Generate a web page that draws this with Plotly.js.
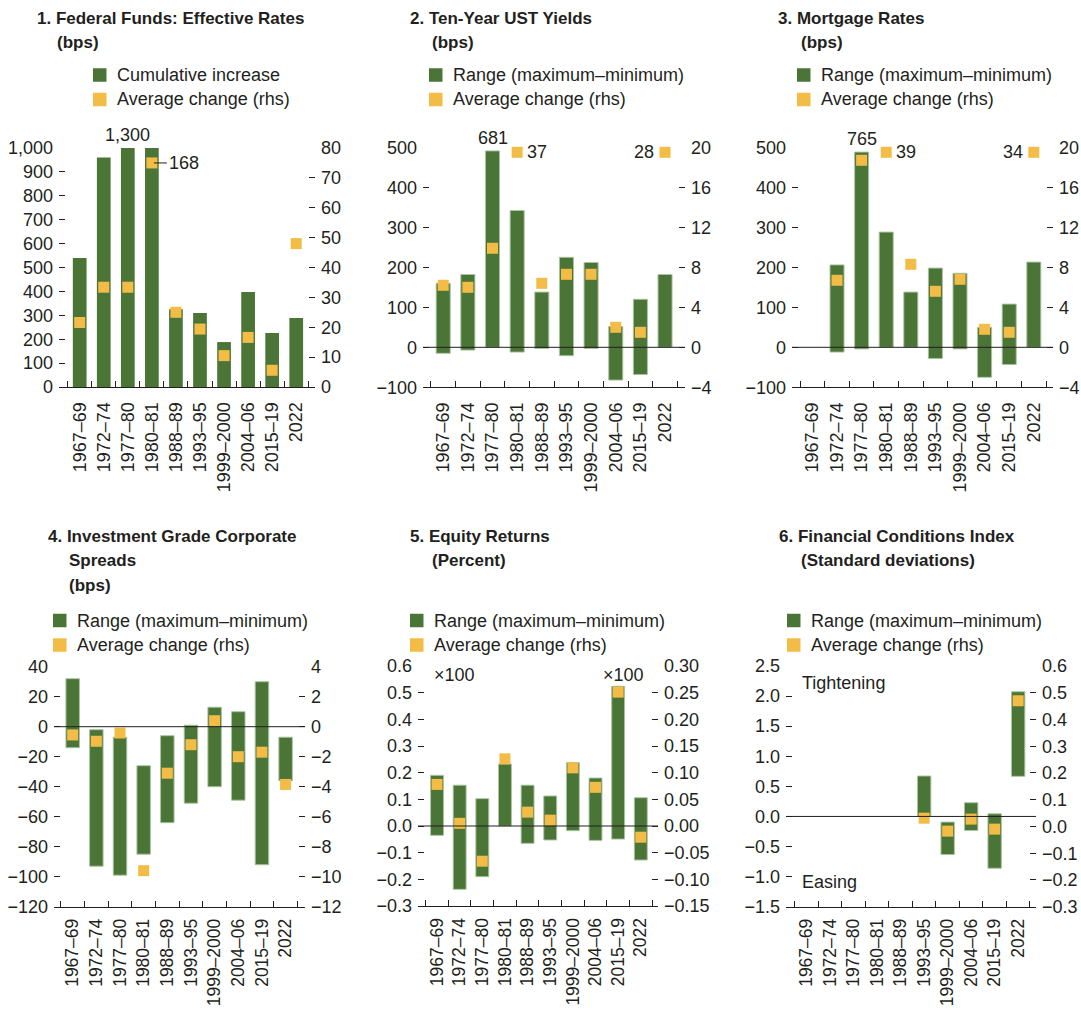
<!DOCTYPE html>
<html>
<head>
<meta charset="utf-8">
<script src="https://cdn.plot.ly/plotly-3.0.1.min.js"></script>
<style>
  html, body { margin: 0; padding: 0; background: #ffffff; }
  #chart { width: 1081px; height: 1010px; }
</style>
</head>
<body>
<div id="chart"></div>
<script>
// ---------------- DATA ----------------
const categories = ['1967–69', '1972–74', '1977–80', '1980–81', '1988–89', '1993–95', '1999–2000', '2004–06', '2015–19', '2022'];

// 1. Federal Funds: Effective Rates (bps)
const fedCumulative = [540, 960, 1300, 1000, 325, 310, 188, 397, 226, 289];
const fedAvgChange  = [21.6, 33.4, 33.4, 75, 25, 19.4, 10.5, 16.6, 5.6, 48];

// 2. Ten-Year UST Yields (bps)
const ustMax = [160, 182, 491, 342, 138, 225, 212, 52, 120, 182];
const ustMin = [-15, -7, 0, -12, -3, -21, -3, -82, -68, 0];
const ustAvgChange = [6.2, 6.0, 9.9, 19.5, 6.4, 7.3, 7.3, 2.0, 1.5, 19.5];

// 3. Mortgage Rates (bps)
const mortMax = [null, 206, 488, 288, 138, 198, 185, 50, 108, 213];
const mortMin = [null, -12, -4, 0, 0, -28, -4, -75, -43, 0];
const mortAvgChange = [null, 6.7, 18.7, 19.5, 8.3, 5.6, 6.8, 1.8, 1.5, 19.5];

// 4. Investment Grade Corporate Spreads (bps)
const igMax = [32, -2, -7, -26, -6, 1, 13, 10, 30, -7];
const igMin = [-14, -93, -99, -85, -64, -51, -40, -49, -92, -36];
const igAvgChange = [-0.55, -0.97, -0.42, -9.6, -3.1, -1.2, 0.4, -2.0, -1.7, -3.85];

// 5. Equity Returns (Percent)
const eqMax = [0.19, 0.153, 0.1025, 0.2325, 0.153, 0.1125, 0.2375, 0.18, 0.524, 0.106];
const eqMin = [-0.035, -0.2375, -0.19, 0, -0.065, -0.0525, -0.0175, -0.054, -0.049, -0.1275];
const eqAvgChange = [0.078, 0.005, -0.066, 0.126, 0.026, 0.011, 0.109, 0.0725, 0.251, -0.021];

// 6. Financial Conditions Index (Standard deviations)
const fciMax = [null, null, null, null, null, 0.672, -0.094, 0.228, 0.044, 2.072];
const fciMin = [null, null, null, null, null, 0, -0.633, -0.233, -0.861, 0.667];
const fciAvgChange = [null, null, null, null, null, 0.031, -0.0175, 0.0275, -0.01, 0.47];

// Off-scale value labels (text shown next to truncated marks)
const fedCumNote = ['', '', '1,300', '', '', '', '', '', '', ''];
const fedAvgNote = ['', '', '', '168', '', '', '', '', '', ''];
const ustRangeNote = ['', '', '681', '', '', '', '', '', '', ''];
const ustAvgNote = ['', '', '', '37', '', '', '', '', '', '28'];
const mortRangeNote = ['', '', '765', '', '', '', '', '', '', ''];
const mortAvgNote = ['', '', '', '39', '', '', '', '', '', '34'];

const titles = [
  ['1. Federal Funds: Effective Rates', '(bps)'],
  ['2. Ten-Year UST Yields', '(bps)'],
  ['3. Mortgage Rates', '(bps)'],
  ['4. Investment Grade Corporate', 'Spreads', '(bps)'],
  ['5. Equity Returns', '(Percent)'],
  ['6. Financial Conditions Index', '(Standard deviations)']
];
const legendBarNames = ['Cumulative increase', 'Range (maximum–minimum)', 'Range (maximum–minimum)',
  'Range (maximum–minimum)', 'Range (maximum–minimum)', 'Range (maximum–minimum)'];
const legendMarkerName = 'Average change (rhs)';

// ---------------- STYLE / GEOMETRY ----------------
const W = 1081, H = 1010;
const GREEN = '#4a7536', YELLOW = '#f2bc47', INK = '#231f20';
const FONT = 'Liberation Sans, Arial, Helvetica, sans-serif';
const px = x => x / W;
const py = y => 1 - y / H;

const geom = [
  {xd: [59, 315],  yd: [148, 387],     xr: [-0.86, 9.78], L: [0, 1000, 100, ',d'],   R: [0, 80, 10, 'd']},
  {xd: [423, 685], yd: [147.3, 387.3], xr: [-0.82, 9.81], L: [-100, 500, 100, 'd'],  R: [-4, 20, 4, 'd']},
  {xd: [792, 1053],yd: [147.3, 387.3], xr: [-0.83, 9.78], L: [-100, 500, 100, 'd'],  R: [-4, 20, 4, 'd']},
  {xd: [54, 305],  yd: [666.7, 906.7], xr: [-0.79, 9.82], L: [-120, 40, 20, 'd'],    R: [-12, 4, 2, 'd']},
  {xd: [418, 658], yd: [666, 906],     xr: [-0.84, 9.76], L: [-0.3, 0.6, 0.1, '.1f'], R: [-0.15, 0.30, 0.05, '.2f']},
  {xd: [786, 1036],yd: [666, 906.7],   xr: [-0.88, 9.76], L: [-1.5, 2.5, 0.5, '.1f'], R: [-0.3, 0.6, 0.1, '.1f']}
];
const titleGeom = [
  {x: 35, x2: 55, y: [18.5, 42.5], sw: 93, tx: 115, ly: [75, 99.5]},
  {x: 408, x2: 430, y: [18.5, 42.5], sw: 429, tx: 451, ly: [75, 99.5]},
  {x: 776, x2: 799, y: [18.5, 42.5], sw: 797, tx: 819, ly: [75, 99.5]},
  {x: 46, x2: 67, y: [536.5, 560.5, 585], sw: 53, tx: 75, ly: [620.5, 645]},
  {x: 408, x2: 430, y: [536.5, 560.5], sw: 410, tx: 432, ly: [620.5, 645]},
  {x: 777, x2: 799, y: [536.5, 560.5], sw: 787, tx: 809, ly: [620.5, 645]}
];

const seriesMax = [fedCumulative, ustMax, mortMax, igMax, eqMax, fciMax];
const seriesMin = [null, ustMin, mortMin, igMin, eqMin, fciMin];
const seriesAvg = [fedAvgChange, ustAvgChange, mortAvgChange, igAvgChange, eqAvgChange, fciAvgChange];

const data = [];
const layout = {
  width: W, height: H,
  margin: {l: 0, r: 0, t: 0, b: 0},
  paper_bgcolor: '#ffffff', plot_bgcolor: 'rgba(0,0,0,0)',
  font: {family: FONT, size: 18, color: INK},
  showlegend: false,
  annotations: [], shapes: []
};

for (let i = 0; i < 6; i++) {
  const n = i + 1;
  const g = geom[i];
  const bottomRow = i >= 3;
  const xk = n === 1 ? 'x' : 'x' + n;
  const yl = 2 * n - 1, yr = 2 * n;
  const ylk = yl === 1 ? 'y' : 'y' + yl;
  const yrk = 'y' + yr;
  const mx = seriesMax[i], mn = seriesMin[i];
  const heights = mx.map((v, j) => (v === null ? null : (mn ? v - mn[j] : v)));
  const bases = mx.map((v, j) => (v === null ? null : (mn ? mn[j] : 0)));

  data.push({
    type: 'bar', x: categories, y: heights, base: bases,
    xaxis: xk, yaxis: ylk, width: 0.57,
    marker: {color: GREEN, line: {color: i === 0 ? GREEN : 'rgba(170,195,160,0.95)', width: i === 0 ? 0 : 1}},
    hoverinfo: 'skip'
  });
  data.push({
    type: 'scatter', mode: 'markers', x: categories, y: seriesAvg[i],
    xaxis: xk, yaxis: yrk, cliponaxis: false,
    marker: {symbol: 'square', size: 11, color: YELLOW, line: {width: 0}},
    hoverinfo: 'skip'
  });

  layout[n === 1 ? 'xaxis' : 'xaxis' + n] = {
    domain: [px(g.xd[0]), px(g.xd[1])], anchor: ylk,
    type: 'category', categoryorder: 'array', categoryarray: categories,
    range: g.xr, tickson: 'boundaries', ticks: 'inside', ticklen: 6, tickwidth: 1, tickcolor: INK,
    showline: true, linecolor: INK, linewidth: 1, showgrid: false, zeroline: false,
    tickangle: -90, tickfont: {family: FONT, size: bottomRow ? 17.5 : 18, color: INK},
    ticklabelstandoff: bottomRow ? 4 : 7,
    fixedrange: true
  };
  layout[yl === 1 ? 'yaxis' : 'yaxis' + yl] = {
    domain: [py(g.yd[1]), py(g.yd[0])], anchor: xk, side: 'left',
    range: [g.L[0], g.L[1]], tick0: g.L[0], dtick: g.L[2], tickformat: g.L[3],
    ticks: 'inside', ticklen: 6, tickwidth: 1, tickcolor: INK,
    showline: false, showgrid: false, zeroline: false,
    tickfont: {family: FONT, size: 18, color: INK}, ticklabelstandoff: 5, fixedrange: true
  };
  layout['yaxis' + yr] = {
    domain: [py(g.yd[1]), py(g.yd[0])], anchor: xk, overlaying: ylk, side: 'right',
    range: [g.R[0], g.R[1]], tick0: g.R[0], dtick: g.R[2], tickformat: g.R[3],
    ticks: 'inside', ticklen: 6, tickwidth: 1, tickcolor: INK,
    showline: false, showgrid: false, zeroline: false,
    tickfont: {family: FONT, size: 18, color: INK}, ticklabelstandoff: 5, fixedrange: true
  };

  if (i > 0) {
    layout.shapes.push({
      type: 'line', xref: xk + ' domain', x0: 0, x1: 1, yref: ylk, y0: 0, y1: 0,
      line: {color: INK, width: 1}, layer: 'above'
    });
  }

  // titles
  const tg = titleGeom[i];
  titles[i].forEach((t, k) => {
    layout.annotations.push({
      xref: 'paper', yref: 'paper', x: px(k === 0 ? tg.x : tg.x2), y: py(tg.y[k]),
      xanchor: 'left', yanchor: 'middle', showarrow: false,
      text: '<b>' + t + '</b>', font: {family: FONT, size: 17, color: INK}
    });
  });
  // legend
  [[legendBarNames[i], GREEN], [legendMarkerName, YELLOW]].forEach((it, k) => {
    const cy = tg.ly[k];
    layout.shapes.push({
      type: 'rect', xref: 'paper', yref: 'paper',
      x0: px(tg.sw), x1: px(tg.sw + 13.5), y0: py(cy - 6.75), y1: py(cy + 6.75),
      fillcolor: it[1], line: {width: 0}
    });
    layout.annotations.push({
      xref: 'paper', yref: 'paper', x: px(tg.tx), y: py(cy),
      xanchor: 'left', yanchor: 'middle', showarrow: false,
      text: it[0], font: {family: FONT, size: 18, color: INK}
    });
  });
}

// off-scale notes (x given as category index, so "2022" is not read as a number)
function addTopNotes(notes, values, xk, yk) {
  notes.forEach((t, j) => {
    if (!t) return;
    layout.annotations.push({xref: xk, yref: yk, x: j, y: values[j],
      xanchor: 'center', yanchor: 'bottom', showarrow: false, text: t, yshift: 1,
      font: {family: FONT, size: 18, color: INK}});
  });
}
function addSideNotes(notes, values, xk, yk) {
  notes.forEach((t, j) => {
    if (!t) return;
    const right = j < categories.length - 1;
    layout.annotations.push({xref: xk, yref: yk, x: j, y: values[j],
      xanchor: right ? 'left' : 'right', yanchor: 'middle', showarrow: false, text: t,
      xshift: right ? 8 : -9, font: {family: FONT, size: 18, color: INK}});
  });
}
addTopNotes(fedCumNote, fedCumulative.map(v => Math.min(v, 1000)), 'x', 'y');
fedAvgNote.forEach((t, j) => {
  if (!t) return;
  layout.annotations.push({xref: 'x', yref: 'y2', x: j, y: fedAvgChange[j],
    text: t, showarrow: true, arrowhead: 0, arrowwidth: 1, arrowcolor: INK, standoff: 2,
    ax: 15, ay: 0, xanchor: 'left', yanchor: 'middle', font: {family: FONT, size: 18, color: INK}});
});
addTopNotes(ustRangeNote, ustMax, 'x2', 'y3');
addSideNotes(ustAvgNote, ustAvgChange, 'x2', 'y4');
addTopNotes(mortRangeNote, mortMax, 'x3', 'y5');
addSideNotes(mortAvgNote, mortAvgChange, 'x3', 'y6');

// panel text labels
const panelTexts = [
  {t: '×100', x: 432, y: 675, a: 'left'},
  {t: '×100', x: 646, y: 675, a: 'right'},
  {t: 'Tightening', x: 800, y: 683, a: 'left'},
  {t: 'Easing', x: 800, y: 882, a: 'left'}
];
panelTexts.forEach(p => layout.annotations.push({
  xref: 'paper', yref: 'paper', x: px(p.x), y: py(p.y), xanchor: p.a, yanchor: 'middle',
  showarrow: false, text: p.t, font: {family: FONT, size: 18, color: INK}
}));

Plotly.newPlot('chart', data, layout, {displayModeBar: false, staticPlot: true});
</script>
</body>
</html>
